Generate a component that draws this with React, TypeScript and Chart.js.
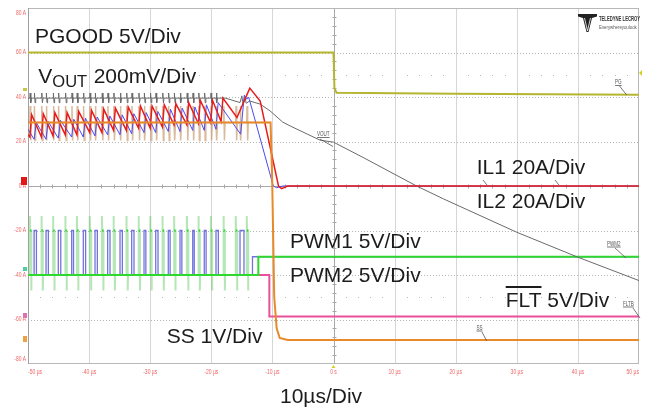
import React, { useEffect, useRef } from "react";
import { Chart, registerables } from "chart.js";

Chart.register(...registerables);

// ---------------- axis ticks ----------------
const xTickValues = [-50, -40, -30, -20, -10, 0, 10, 20, 30, 40, 50];
const xTickLabels = ["-50 µs", "-40 µs", "-30 µs", "-20 µs", "-10 µs", "0 s", "10 µs", "20 µs", "30 µs", "40 µs", "50 µs"];
const yTickValues = [80, 60, 40, 20, 0, -20, -40, -60, -80];
const yTickLabels = ["80 A", "60 A", "40 A", "20 A", "0 A", "-20 A", "-40 A", "-60 A", "-80 A"];

// ---------------- PGOOD ----------------
const pgT = [-50, 0, 0.15, 0.5, 20, 50];
const pgV = [60, 60, 44, 41.9, 41.5, 41.0];

// ---------------- PWM pulse edges (µs) ----------------
const pwm2PulseT = [-49.7, -47.8, -45.9, -43.9, -42.0, -39.9, -37.9, -36.0, -33.9, -31.9, -30.0, -28.0, -26.1, -24.0, -22.1, -20.1, -18.0, -16.0, -14.2];
const pwm1PulseT = [-49.0, -47.05, -45.04, -42.85, -40.95, -39.03, -36.96, -34.94, -33.03, -31.01, -29.1, -27.04, -25.12, -23.04, -21.15, -19.23, -15.3];
const pwm1PulseW = [0.38, 0.38, 0.4, 0.3, 0.38, 0.38, 0.38, 0.38, 0.38, 0.3, 0.38, 0.3, 0.3, 0.25, 0.3, 0.38, 0.65];
const pwmLowV = -40;
const pwmHighV = -20;
const pwmIdleV = -31.8;
const pwm1IdleT = -13.26;
const pwm2IdleT = -12.3;
const pwm2SpikeTopV = -13.5;
const pwm2SpikeLowV = -47;

// ---------------- inductor currents ----------------
const il1StartV = 23;
const il1RiseT = [-49.7, -47.8, -45.9, -43.9, -42.0, -39.9, -37.9, -36.0, -33.9, -31.9, -30.0, -28.0, -26.1, -24.0, -22.1, -20.1, -18.4];
const il1Trough = [22, 22, 22.5, 23, 23, 24, 24, 25, 25, 26, 26, 26.5, 27.5, 27.5, 28, 28.5, 29];
const il1Peak = [32, 32.5, 33, 33, 33.5, 34, 34.5, 35, 35.5, 36, 36, 36.5, 37, 37.5, 38.5, 38.5, 39.5];
const il1TailT = [-15.8, -13.7, -12.0, -9.0, -8.5, -7.5, 50];
const il1TailV = [30.8, 44, 38.2, 0, -1.2, 0, 0];

const il2StartV = 25.5;
const il2RiseT = [-49.0, -47.05, -45.04, -42.85, -40.95, -39.03, -36.96, -34.94, -33.03, -31.01, -29.1, -27.04, -25.12, -23.04, -21.15, -19.23];
const il2Trough = [21, 21, 21.5, 22, 22, 22.5, 23, 23, 23.5, 24, 24, 24.5, 24.5, 25, 25, 25.5];
const il2Peak = [28.5, 29, 29.5, 30, 30.5, 31, 31.5, 32, 32.5, 33, 33.5, 34.5, 35, 35.5, 36.5, 37.5];
const il2TailT = [-15.2, -14.6, -14.2, -13.9, -13.7, -9.85, -9.3, -8.3, 50];
const il2TailV = [23.3, 40.8, 39.0, 40.0, 38.2, 0, -0.8, 0, 0];

// ---------------- VOUT ----------------
const voutFlatV = 39.5;
const voutSpikeHi = 41.8;
const voutSpikeLo = 37.4;
const voutRippleEndT = -17.7;
const voutTailT = [-17.7, -15.3, -15.0, -14.8, -14.5, -14.3, -13.7, -12.0, -10.4, -8.3, -7.1, -2.2, 0, 5, 13.6, 18.0, 22, 30, 40, 50];
const voutTailV = [39.5, 37.5, 40.5, 36.8, 40.2, 37.2, 38.2, 36.8, 33.8, 28.7, 27.0, 20.6, 19.7, 12.6, 0, -5.8, -10.8, -20.8, -32.0, -42.5];

// ---------------- SS ----------------
const ssT = [-50, -10.3, -10.05, -9.7, -9.3, -8.8, -7.5, 50];
const ssV = [28.5, 28.5, 5, -50, -64, -68.3, -69.2, -69.2];
const ssSpikeHi = 36;
const ssSpikeLo = 20.5;

// ---------------- FLT ----------------
const fltT = [-50, -10.5, -10.5, 50];
const fltV = [-40, -40, -58.7, -58.7];

type P = { x: number; y: number | null };

const zip = (ts: number[], vs: number[]): P[] => ts.map((t, i) => ({ x: t, y: vs[i] }));

function buildIl(startV: number, riseT: number[], trough: number[], peak: number[], riseDur: number, tailT: number[], tailV: number[]): P[] {
  const pts: P[] = [{ x: -50, y: startV }];
  riseT.forEach((t, i) => {
    pts.push({ x: t, y: trough[i] });
    pts.push({ x: t + riseDur, y: peak[i] });
  });
  return pts.concat(zip(tailT, tailV));
}

const switchTimes = [...pwm1PulseT, ...pwm2PulseT].sort((a, b) => a - b);

function buildVout(): P[] {
  const pts: P[] = [{ x: -50, y: voutFlatV }];
  switchTimes.filter((t) => t < voutRippleEndT - 0.3).forEach((t) => {
    pts.push({ x: t, y: voutFlatV });
    pts.push({ x: t + 0.06, y: voutSpikeHi });
    pts.push({ x: t + 0.16, y: voutSpikeLo });
    pts.push({ x: t + 0.26, y: voutFlatV });
  });
  return pts.concat(zip(voutTailT, voutTailV));
}

function buildSsSpikes(): P[] {
  const pts: P[] = [{ x: -50, y: ssV[0] }];
  switchTimes.forEach((t) => {
    pts.push({ x: t, y: ssV[0] });
    pts.push({ x: t + 0.05, y: ssSpikeHi });
    pts.push({ x: t + 0.15, y: ssSpikeLo });
    pts.push({ x: t + 0.25, y: ssV[0] });
  });
  pts.push({ x: ssT[1], y: ssV[1] });
  return pts;
}

function buildPwm1(): P[] {
  const pts: P[] = [{ x: -50, y: pwmLowV }];
  pwm1PulseT.forEach((t, i) => {
    const w = pwm1PulseW[i];
    pts.push({ x: t, y: pwmLowV }, { x: t, y: pwmHighV }, { x: t + w, y: pwmHighV }, { x: t + w, y: pwmLowV });
  });
  pts.push({ x: pwm1IdleT, y: pwmLowV }, { x: pwm1IdleT, y: pwmIdleV }, { x: 50, y: pwmIdleV });
  return pts;
}

function buildPwm2Base(): P[] {
  return [
    { x: -50, y: pwmLowV },
    { x: pwm2IdleT, y: pwmLowV },
    { x: pwm2IdleT, y: pwmIdleV },
    { x: 50, y: pwmIdleV },
  ];
}

function buildPwm2Pale(): P[] {
  const pts: P[] = [];
  pwm2PulseT.forEach((t) => {
    pts.push(
      { x: t, y: pwmLowV },
      { x: t, y: pwm2SpikeTopV },
      { x: t + 0.05, y: pwmHighV },
      { x: t + 0.22, y: pwmHighV },
      { x: t + 0.22, y: pwm2SpikeLowV },
      { x: t + 0.27, y: pwmLowV },
      { x: t + 0.28, y: null }
    );
  });
  return pts;
}

function buildPwm2Tops(): P[] {
  const pts: P[] = [];
  pwm2PulseT.forEach((t) => {
    pts.push({ x: t, y: pwmHighV }, { x: t + 0.25, y: pwmHighV }, { x: t + 0.26, y: null });
  });
  return pts;
}

const BIG = "21px 'Liberation Sans', Arial, sans-serif";
const SANS = "'Liberation Sans', Arial, sans-serif";

// draws horizontally condensed text (scope UI uses a narrow face)
function narrowText(ctx: any, txt: string, x: number, y: number, align: "left" | "right" = "left", squeeze = 0.72) {
  ctx.save();
  ctx.translate(x, y);
  ctx.scale(squeeze, 1);
  ctx.textAlign = align;
  ctx.fillText(txt, 0, 0);
  const w = ctx.measureText(txt).width * squeeze;
  ctx.restore();
  return w;
}

const overlay = {
  id: "scopeOverlay",
  beforeDatasetsDraw(chart: any) {
    const { ctx, chartArea: a, scales } = chart;
    const xs = scales.x;
    const ys = scales.y;
    ctx.save();
    ctx.lineWidth = 1;
    // vertical grid
    for (const v of xTickValues) {
      if (v === -50 || v === 50) continue;
      const px = Math.round(xs.getPixelForValue(v)) + 0.5;
      ctx.strokeStyle = v === 0 ? "#a8a8a8" : "#d6d6d6";
      ctx.beginPath();
      ctx.moveTo(px, a.top);
      ctx.lineTo(px, a.bottom);
      ctx.stroke();
    }
    // horizontal grid
    for (const v of yTickValues) {
      if (v === 80 || v === -80) continue;
      const py = Math.round(ys.getPixelForValue(v)) + 0.5;
      if (v === 0) {
        ctx.setLineDash([]);
        ctx.strokeStyle = "#a8a8a8";
      } else {
        ctx.setLineDash([1, 2]);
        ctx.strokeStyle = "#b4b4b4";
      }
      ctx.beginPath();
      ctx.moveTo(a.left, py);
      ctx.lineTo(a.right, py);
      ctx.stroke();
    }
    ctx.setLineDash([]);
    // sparse dots at ±50
    ctx.fillStyle = "#b8b8b8";
    for (const lv of [50, -50]) {
      const py = Math.round(ys.getPixelForValue(lv));
      for (let t = -48; t < 50; t += 2) {
        if (t % 10 === 0) continue;
        const px = Math.round(xs.getPixelForValue(t));
        ctx.fillRect(px, py, 1, 1);
      }
    }
    // center axis minor ticks
    ctx.strokeStyle = "#a8a8a8";
    const cx = Math.round(xs.getPixelForValue(0)) + 0.5;
    const cy = Math.round(ys.getPixelForValue(0)) + 0.5;
    for (let v = -76; v <= 76; v += 4) {
      if (v % 20 === 0) continue;
      const py = Math.round(ys.getPixelForValue(v)) + 0.5;
      ctx.beginPath();
      ctx.moveTo(cx - 2, py);
      ctx.lineTo(cx + 2, py);
      ctx.stroke();
    }
    for (let t = -48; t <= 48; t += 2) {
      if (t % 10 === 0) continue;
      const px = Math.round(xs.getPixelForValue(t)) + 0.5;
      ctx.beginPath();
      ctx.moveTo(px, cy - 2);
      ctx.lineTo(px, cy + 2);
      ctx.stroke();
    }
    // frame
    ctx.strokeStyle = "#b8b8b8";
    ctx.strokeRect(a.left + 0.5, a.top + 0.5, a.right - a.left - 1, a.bottom - a.top - 1);
    ctx.strokeStyle = "#a0a0a0";
    ctx.beginPath();
    ctx.moveTo(a.left + 0.5, a.top);
    ctx.lineTo(a.left + 0.5, a.bottom);
    ctx.stroke();

    // y tick labels
    ctx.font = `7px ${SANS}`;
    ctx.fillStyle = "#f06464";
    ctx.textBaseline = "middle";
    yTickValues.forEach((v, i) => {
      let py = ys.getPixelForValue(v);
      if (i === 0) py += 5;
      if (i === yTickValues.length - 1) py -= 5;
      narrowText(ctx, yTickLabels[i], a.left - 2, py, "right", 0.7);
    });
    ctx.restore();
  },
  afterDraw(chart: any) {
    const { ctx, chartArea: a, scales } = chart;
    const xs = scales.x;
    ctx.save();
    // x tick labels
    ctx.font = `7px ${SANS}`;
    ctx.fillStyle = "#f06464";
    ctx.textBaseline = "middle";
    xTickValues.forEach((v, i) => {
      const px = xs.getPixelForValue(v);
      const lbl = xTickLabels[i];
      if (i === 0) narrowText(ctx, lbl, px, a.bottom + 8, "left", 0.72);
      else if (i === xTickValues.length - 1) narrowText(ctx, lbl, px, a.bottom + 8, "right", 0.72);
      else {
        ctx.save();
        ctx.translate(px, a.bottom + 8);
        ctx.scale(0.72, 1);
        ctx.textAlign = "center";
        ctx.fillText(lbl, 0, 0);
        ctx.restore();
      }
    });

    // channel markers on the left edge
    ctx.fillStyle = "#e01818";
    ctx.fillRect(21, 177, 6, 8);
    ctx.fillStyle = "#c8c84a";
    ctx.fillRect(23, 88, 4, 3);
    ctx.fillStyle = "#4fd0a0";
    ctx.fillRect(23, 267, 4, 4);
    ctx.fillStyle = "#e070b0";
    ctx.fillRect(23, 313, 4, 5);
    ctx.fillStyle = "#f0a040";
    ctx.fillRect(23, 336, 4, 6);
    // trigger markers
    ctx.fillStyle = "#d8d020";
    ctx.beginPath();
    const tx = xs.getPixelForValue(0);
    ctx.moveTo(tx - 2, a.bottom + 4);
    ctx.lineTo(tx + 2, a.bottom + 4);
    ctx.lineTo(tx, a.bottom + 1);
    ctx.fill();
    ctx.beginPath();
    ctx.moveTo(a.right + 3, 70);
    ctx.lineTo(a.right + 3, 76);
    ctx.lineTo(a.right, 73);
    ctx.fill();

    // big annotations
    ctx.fillStyle = "#1c1c1c";
    ctx.textAlign = "left";
    ctx.textBaseline = "alphabetic";
    ctx.font = BIG;
    ctx.fillText("PGOOD 5V/Div", 35, 42.5);
    let x = 38.3;
    ctx.fillText("V", x, 82.7);
    x += ctx.measureText("V").width;
    ctx.font = "16.5px 'Liberation Sans', Arial, sans-serif";
    ctx.fillText("OUT", x, 87.3);
    x += ctx.measureText("OUT").width;
    ctx.font = BIG;
    ctx.fillText("200mV/Div", x + 6.5, 82.7);
    ctx.fillText("IL1 20A/Div", 476.7, 174);
    ctx.fillText("IL2 20A/Div", 476.7, 208.3);
    ctx.fillText("PWM1 5V/Div", 290, 248.3);
    ctx.fillText("PWM2 5V/Div", 290, 281.7);
    ctx.fillText("FLT", 505.7, 306.7);
    const fw = ctx.measureText("FLT").width;
    ctx.fillText(" 5V/Div", 505.7 + fw, 306.7);
    ctx.fillRect(505.7, 286, fw, 2);
    ctx.fillText("SS 1V/Div", 166.7, 343.3);
    ctx.fillText("10µs/Div", 280, 403.3);

    // small trace labels with leaders
    ctx.font = `6.5px ${SANS}`;
    ctx.fillStyle = "#555";
    ctx.strokeStyle = "#555";
    ctx.lineWidth = 0.8;
    const tag = (txt: string, lx: number, ly: number, x1: number, y1: number, x2: number, y2: number) => {
      const w = narrowText(ctx, txt, lx, ly, "left", 0.7);
      ctx.beginPath();
      ctx.moveTo(lx, ly + 1.5);
      ctx.lineTo(lx + w, ly + 1.5);
      ctx.moveTo(x1, y1);
      ctx.lineTo(x2, y2);
      ctx.stroke();
    };
    tag("PG", 615, 84, 619.5, 86, 626.7, 95);
    tag("VOUT", 317, 136, 320, 139, 333, 146.5);
    tag("PWM2", 607, 245.5, 615, 248, 626, 258);
    tag("FLTB", 623, 305.5, 633, 308, 640, 318);
    tag("SS", 476.5, 329.5, 482, 332, 486.7, 341);
    ctx.beginPath();
    ctx.moveTo(483, 180);
    ctx.lineTo(487, 185);
    ctx.moveTo(555, 180);
    ctx.lineTo(559, 185);
    ctx.stroke();

    // Teledyne LeCroy logo
    ctx.fillStyle = "#222";
    ctx.beginPath();
    ctx.moveTo(578, 14);
    ctx.lineTo(597, 14);
    ctx.lineTo(597, 16.5);
    ctx.lineTo(592, 18);
    ctx.lineTo(588.5, 32);
    ctx.lineTo(586.5, 32);
    ctx.lineTo(583, 18);
    ctx.lineTo(578, 16.5);
    ctx.closePath();
    ctx.fill();
    ctx.strokeStyle = "#fff";
    ctx.lineWidth = 0.8;
    ctx.beginPath();
    ctx.moveTo(587.5, 31);
    ctx.lineTo(584.5, 18);
    ctx.moveTo(587.5, 31);
    ctx.lineTo(590.5, 18);
    ctx.stroke();
    ctx.font = `bold 7px ${SANS}`;
    ctx.fillStyle = "#333";
    narrowText(ctx, "TELEDYNE LECROY", 599, 21, "left", 0.6);
    ctx.font = `6px ${SANS}`;
    ctx.fillStyle = "#555";
    narrowText(ctx, "Everywhereyoulook", 599, 28.5, "left", 0.72);
    ctx.restore();
  },
};

export default function App() {
  const ref = useRef<HTMLCanvasElement>(null);
  useEffect(() => {
    document.body.style.margin = "0";
    const line = (label: string, data: P[], color: string, width: number) => ({
      label,
      data,
      borderColor: color,
      backgroundColor: color,
      borderWidth: width,
      pointRadius: 0,
      tension: 0,
      fill: false,
      spanGaps: false,
    });
    const chart = new Chart(ref.current as HTMLCanvasElement, {
      type: "line",
      data: {
        datasets: [
          line("SS", zip(ssT, ssV), "#e8892a", 2),
          line("IL1", buildIl(il1StartV, il1RiseT, il1Trough, il1Peak, 0.3, il1TailT, il1TailV), "#e81c1c", 1.5),
          line("IL2", buildIl(il2StartV, il2RiseT, il2Trough, il2Peak, 0.35, il2TailT, il2TailV), "#4a4af0", 1),
          line("SS ringing", buildSsSpikes(), "rgba(185,130,75,0.55)", 1.5),
          line("VOUT", buildVout(), "#6a6a6a", 1),
          line("PGOOD", zip(pgT, pgV), "#b5b530", 2),
          line("PWM2", buildPwm2Base(), "#2ed82e", 2),
          line("PWM2 tops", buildPwm2Tops(), "#2ed82e", 2),
          line("PWM1", buildPwm1(), "rgba(80,80,215,0.8)", 1.3),
          line("PWM2 edges", buildPwm2Pale(), "rgba(90,200,90,0.45)", 2),
          line("FLT", zip(fltT, fltV), "#e8509a", 2),
        ] as any,
      },
      options: {
        animation: false,
        responsive: false,
        devicePixelRatio: 1,
        events: [],
        layout: { padding: { top: 8, right: 6, left: 0, bottom: 0 } },
        plugins: { legend: { display: false }, tooltip: { enabled: false } },
        scales: {
          x: {
            type: "linear",
            min: -50,
            max: 50,
            afterFit: (s: any) => {
              s.height = 44;
            },
            grid: { display: false, drawTicks: false },
            border: { display: false },
            ticks: { display: false, stepSize: 10 },
          },
          y: {
            type: "linear",
            min: -80,
            max: 80,
            afterFit: (s: any) => {
              s.width = 28;
            },
            grid: { display: false, drawTicks: false },
            border: { display: false },
            ticks: { display: false, stepSize: 20 },
          },
        },
      } as any,
      plugins: [overlay],
    });
    return () => chart.destroy();
  }, []);
  return (
    <div style={{ position: "absolute", left: 0, top: 0, width: 645, height: 408, background: "#fff" }}>
      <canvas ref={ref} width={645} height={408} style={{ width: 645, height: 408, display: "block" }} />
    </div>
  );
}
